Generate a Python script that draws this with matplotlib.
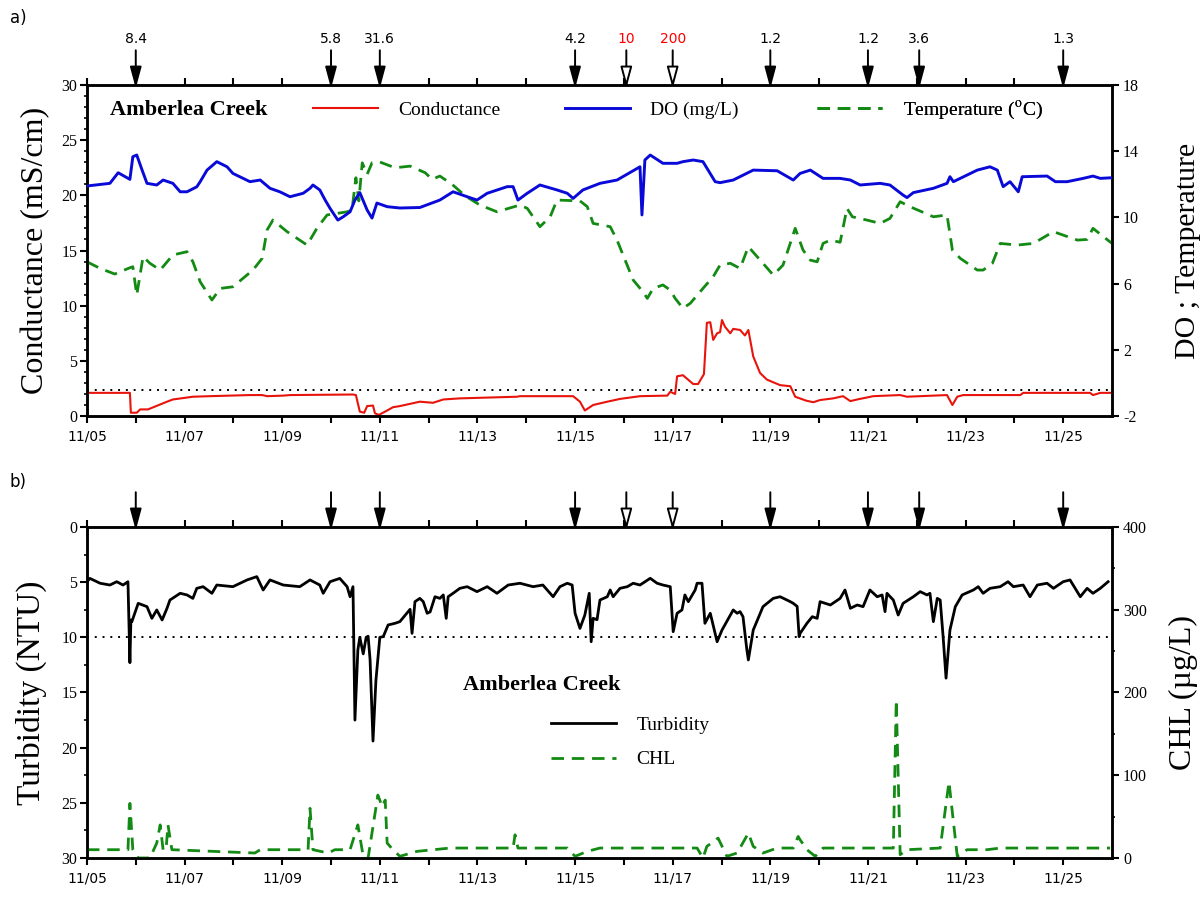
import numpy as np
import matplotlib
matplotlib.use('Agg')
import matplotlib.pyplot as plt
from matplotlib.ticker import MultipleLocator

plt.rcParams['font.family'] = 'DejaVu Sans'
plt.rcParams['mathtext.fontset'] = 'stix'
plt.rcParams['axes.unicode_minus'] = False
SERIF = 'Liberation Serif'

# time axis: days since 11/05 00:00
day_labels = ['11/05', '11/07', '11/09', '11/11', '11/13', '11/15',
              '11/17', '11/19', '11/21', '11/23', '11/25']

# events marked by arrows (rain totals)
event_days = [1.0, 5.0, 6.0, 10.0, 11.05, 12.0, 14.0, 16.0, 17.05, 20.0]
event_labels = ['8.4', '5.8', '31.6', '4.2', '10', '200', '1.2', '1.2', '3.6', '1.3']
event_hollow = [False, False, False, False, True, True, False, False, False, False]

# a) conductance (mS/cm), left axis
conductance = [
    (0.00, 2.1), (0.88, 2.1), (0.90, 0.3), (1.02, 0.3), (1.09, 0.6), (1.25, 0.6),
    (1.39, 0.85), (1.64, 1.3), (1.76, 1.5), (2.17, 1.75), (2.52, 1.8), (3.34, 1.9),
    (3.59, 1.9), (3.69, 1.8), (4.02, 1.85), (4.16, 1.9), (5.45, 1.95), (5.51, 1.9),
    (5.59, 0.4), (5.68, 0.3), (5.74, 0.9), (5.86, 0.95), (5.90, 0.25), (5.98, 0.1),
    (6.15, 0.5), (6.27, 0.8), (6.41, 0.9), (6.82, 1.3), (7.09, 1.2), (7.30, 1.5),
    (7.64, 1.6), (8.81, 1.75), (8.87, 1.8), (9.96, 1.8), (10.10, 1.3), (10.20, 0.5),
    (10.37, 1.0), (10.66, 1.3), (10.92, 1.55), (11.33, 1.8), (11.89, 1.85),
    (11.95, 2.2), (12.05, 2.0), (12.09, 3.6), (12.21, 3.7), (12.42, 2.9),
    (12.52, 2.9), (12.64, 3.8), (12.70, 8.45), (12.77, 8.5), (12.83, 6.9),
    (12.91, 7.5), (12.97, 7.6), (13.01, 8.7), (13.07, 8.1), (13.18, 7.5),
    (13.24, 7.9), (13.38, 7.8), (13.48, 7.3), (13.55, 7.8), (13.65, 5.4),
    (13.79, 3.9), (13.93, 3.3), (14.20, 2.8), (14.41, 2.7), (14.51, 1.75),
    (14.73, 1.4), (14.88, 1.25), (15.02, 1.45), (15.29, 1.6), (15.49, 1.8),
    (15.64, 1.35), (15.78, 1.5), (16.11, 1.8), (16.66, 1.9), (16.80, 1.75),
    (17.62, 1.9), (17.73, 1.0), (17.83, 1.75), (17.95, 1.9), (19.12, 1.9),
    (19.18, 2.1), (20.55, 2.1), (20.61, 1.9), (20.76, 2.1), (21.00, 2.1)]

# a) dissolved oxygen (mg/L), right axis
dissolved_oxygen = [
    (0.00, 11.9), (0.47, 12.06), (0.64, 12.7), (0.88, 12.3), (0.94, 13.67),
    (1.02, 13.77), (1.13, 12.86), (1.23, 12.06), (1.43, 11.96), (1.56, 12.26),
    (1.76, 12.06), (1.91, 11.55), (2.05, 11.55), (2.25, 11.85), (2.32, 12.16),
    (2.46, 12.86), (2.66, 13.37), (2.87, 13.06), (2.99, 12.66), (3.34, 12.16),
    (3.55, 12.26), (3.75, 11.76), (3.95, 11.55), (4.16, 11.25), (4.43, 11.46),
    (4.57, 11.76), (4.63, 11.96), (4.77, 11.66), (4.88, 11.05), (4.98, 10.55),
    (5.14, 9.84), (5.25, 10.04), (5.39, 10.34), (5.49, 11.05), (5.59, 11.5),
    (5.74, 10.45), (5.84, 9.96), (5.94, 10.87), (6.15, 10.65), (6.41, 10.57),
    (6.82, 10.6), (7.23, 11.05), (7.50, 11.55), (7.79, 11.25), (7.99, 11.05),
    (8.20, 11.46), (8.61, 11.86), (8.73, 11.86), (8.83, 11.05), (9.02, 11.46),
    (9.28, 11.96), (9.63, 11.66), (9.84, 11.46), (9.96, 11.15), (10.16, 11.66),
    (10.51, 12.06), (10.86, 12.26), (11.33, 13.06), (11.37, 10.15), (11.43, 13.47),
    (11.54, 13.77), (11.80, 13.27), (12.09, 13.27), (12.21, 13.37), (12.42, 13.47),
    (12.62, 13.37), (12.87, 12.16), (12.97, 12.1), (13.24, 12.26), (13.65, 12.86),
    (14.14, 12.82), (14.47, 12.26), (14.61, 12.66), (14.82, 12.86), (15.08, 12.36),
    (15.43, 12.36), (15.64, 12.26), (15.84, 11.96), (16.25, 12.06), (16.45, 11.96),
    (16.72, 11.35), (16.80, 11.2), (16.93, 11.5), (17.34, 11.76), (17.62, 12.06),
    (17.68, 12.46), (17.75, 12.16), (18.24, 12.86), (18.50, 13.06), (18.65, 12.86),
    (18.77, 11.86), (18.91, 12.16), (19.08, 11.55), (19.16, 12.46), (19.67, 12.5),
    (19.84, 12.16), (20.08, 12.16), (20.41, 12.36), (20.61, 12.5), (20.76, 12.36),
    (21.00, 12.4)]

# a) water temperature (oC), right axis
temperature = [
    (0.00, 7.32), (0.27, 6.92), (0.57, 6.58), (0.88, 6.96), (0.94, 7.02),
    (1.02, 5.31), (1.15, 7.63), (1.29, 7.23), (1.50, 6.82), (1.76, 7.73),
    (2.05, 7.93), (2.17, 7.32), (2.32, 6.11), (2.56, 5.01), (2.73, 5.71),
    (2.99, 5.81), (3.40, 6.82), (3.59, 7.53), (3.69, 9.24), (3.81, 9.84),
    (4.10, 9.14), (4.51, 8.33), (4.71, 9.34), (4.92, 10.15), (5.33, 10.34),
    (5.43, 10.45), (5.51, 12.4), (5.57, 11.0), (5.64, 13.3), (5.74, 12.6),
    (5.84, 13.3), (6.00, 13.35), (6.31, 13.0), (6.62, 13.1), (6.93, 12.7),
    (7.07, 12.3), (7.23, 12.5), (7.48, 12.0), (7.75, 11.3), (8.05, 10.75),
    (8.40, 10.34), (8.87, 10.75), (9.02, 10.55), (9.28, 9.44), (9.49, 10.04),
    (9.63, 11.05), (10.10, 11.0), (10.25, 10.65), (10.37, 9.64), (10.72, 9.44),
    (10.86, 8.63), (11.19, 6.22), (11.39, 5.51), (11.48, 5.11), (11.60, 5.71),
    (11.80, 5.92), (11.95, 5.61), (12.05, 5.11), (12.21, 4.51), (12.36, 4.81),
    (12.62, 5.71), (12.83, 6.42), (12.97, 7.12), (13.18, 7.23), (13.38, 6.92),
    (13.55, 8.23), (13.73, 7.63), (14.06, 6.52), (14.26, 7.12), (14.51, 9.34),
    (14.67, 8.03), (14.82, 7.42), (14.96, 7.32), (15.08, 8.43), (15.23, 8.63),
    (15.43, 8.5), (15.57, 10.55), (15.68, 10.04), (15.98, 9.84), (16.25, 9.64),
    (16.45, 9.94), (16.66, 10.95), (16.86, 10.65), (17.34, 10.04), (17.62, 10.15),
    (17.73, 8.03), (17.89, 7.53), (18.24, 6.82), (18.36, 6.82), (18.55, 7.23),
    (18.71, 8.43), (19.06, 8.33), (19.39, 8.43), (19.80, 9.14), (20.29, 8.63),
    (20.49, 8.67), (20.61, 9.34), (21.00, 8.43)]

# b) turbidity (NTU), left axis (inverted)
turbidity = [
    (0.00, 4.96), (0.06, 4.66), (0.27, 5.1), (0.47, 5.26), (0.61, 4.96), (0.74, 5.26),
    (0.84, 4.96), (0.88, 12.3), (0.90, 8.43), (0.92, 8.58), (1.05, 6.92), (1.23, 7.22),
    (1.33, 8.28), (1.43, 7.52), (1.54, 8.43), (1.64, 7.37), (1.70, 6.62), (1.91, 6.01),
    (2.05, 6.16), (2.17, 6.47), (2.25, 5.56), (2.38, 5.41), (2.56, 6.01), (2.66, 5.26),
    (2.99, 5.41), (3.28, 4.8), (3.48, 4.5), (3.61, 5.71), (3.75, 4.8), (4.02, 5.26),
    (4.36, 5.41), (4.57, 4.8), (4.77, 5.26), (4.84, 6.01), (4.98, 4.96), (5.18, 4.66),
    (5.33, 5.41), (5.39, 6.32), (5.45, 5.41), (5.49, 17.5), (5.55, 11.15), (5.59, 10.0),
    (5.66, 11.5), (5.72, 10.0), (5.76, 9.9), (5.80, 12.0), (5.86, 19.4), (5.92, 13.9),
    (5.96, 12.0), (6.00, 10.0), (6.07, 9.94), (6.17, 8.88), (6.31, 8.73), (6.41, 8.58),
    (6.62, 7.46), (6.66, 9.64), (6.72, 6.77), (6.82, 6.47), (6.89, 6.77), (6.97, 7.82),
    (7.03, 7.7), (7.13, 6.32), (7.23, 6.47), (7.30, 6.16), (7.36, 8.28), (7.40, 6.32),
    (7.50, 6.01), (7.64, 5.56), (7.79, 5.41), (7.99, 5.86), (8.20, 5.41), (8.40, 6.01),
    (8.63, 5.26), (8.87, 5.1), (9.14, 5.41), (9.34, 5.26), (9.55, 6.32), (9.69, 5.41),
    (9.84, 5.1), (9.94, 5.26), (10.00, 7.82), (10.10, 9.19), (10.20, 7.98), (10.29, 6.01),
    (10.33, 10.4), (10.37, 8.28), (10.45, 8.4), (10.51, 6.62), (10.66, 6.32), (10.72, 5.71),
    (10.78, 6.32), (10.92, 5.56), (11.07, 5.41), (11.19, 5.1), (11.33, 5.26), (11.54, 4.65),
    (11.68, 5.1), (11.80, 5.26), (11.95, 5.41), (12.01, 9.49), (12.09, 7.82), (12.19, 7.52),
    (12.25, 6.16), (12.32, 6.77), (12.46, 5.71), (12.50, 5.1), (12.60, 5.1), (12.66, 8.73),
    (12.77, 7.82), (12.91, 10.4), (13.01, 9.34), (13.18, 7.98), (13.24, 7.52), (13.32, 7.82),
    (13.38, 7.67), (13.44, 8.13), (13.52, 11.15), (13.55, 12.05), (13.65, 9.34),
    (13.85, 7.22), (14.06, 6.47), (14.20, 6.32), (14.41, 6.77), (14.47, 6.92), (14.55, 7.2),
    (14.59, 9.94), (14.61, 9.64), (14.75, 8.73), (14.86, 8.13), (14.96, 8.28), (15.02, 6.77),
    (15.23, 7.07), (15.43, 6.47), (15.53, 5.71), (15.64, 7.37), (15.78, 7.07), (15.90, 7.22),
    (16.04, 5.71), (16.19, 6.32), (16.29, 6.16), (16.35, 7.67), (16.39, 6.01), (16.52, 6.62),
    (16.62, 7.98), (16.72, 6.92), (16.93, 6.32), (17.07, 5.86), (17.21, 6.16), (17.27, 6.01),
    (17.34, 8.58), (17.42, 6.47), (17.48, 6.62), (17.54, 9.94), (17.60, 13.7), (17.68, 9.34),
    (17.79, 7.22), (17.93, 6.16), (18.16, 5.71), (18.26, 5.41), (18.36, 6.01), (18.50, 5.56),
    (18.71, 5.41), (18.87, 4.96), (18.98, 5.41), (19.18, 5.26), (19.32, 6.32), (19.47, 5.26),
    (19.67, 5.1), (19.80, 5.56), (20.00, 4.96), (20.14, 4.8), (20.35, 6.32), (20.49, 5.56),
    (20.61, 6.01), (20.76, 5.56), (20.92, 4.96)]

# b) chlorophyll (ug/L), right axis
chlorophyll = [
    (0.00, 10), (0.84, 10), (0.88, 66), (0.94, 10), (1.05, 0), (1.29, 0), (1.43, 18),
    (1.50, 40), (1.56, 10), (1.62, 10), (1.66, 40), (1.74, 10), (3.44, 6), (3.55, 10),
    (4.53, 10), (4.57, 60), (4.63, 10), (4.94, 6), (5.08, 10), (5.39, 10), (5.55, 40),
    (5.66, 2), (5.76, 0), (5.96, 76), (6.05, 62), (6.11, 70), (6.15, 18), (6.27, 10),
    (6.41, 2), (6.76, 8), (7.44, 12), (8.73, 12), (8.77, 28), (8.83, 12), (9.84, 12),
    (10.00, 2), (10.25, 8), (10.51, 12), (12.50, 12), (12.62, 0), (12.70, 14),
    (12.93, 24), (13.11, 2), (13.32, 6), (13.55, 30), (13.65, 14), (13.85, 6),
    (14.14, 12), (14.47, 12), (14.57, 26), (14.61, 22), (14.75, 10), (14.92, 2),
    (15.08, 12), (16.52, 12), (16.58, 191), (16.66, 4), (16.80, 10), (17.48, 12),
    (17.66, 92), (17.83, 2), (18.03, 10), (18.44, 10), (18.71, 12), (20.96, 12)]

cond_limit = 2.4
turb_limit = 10

GREEN = '#138a13'
DASH = (0, (4.5, 2.8))


def xy(pairs):
    a = np.array(pairs, dtype=float)
    return a[:, 0], a[:, 1]


def style_time_axis(ax):
    ax.set_xlim(0, 21)
    ticks = np.arange(0, 21)
    labels = [day_labels[i // 2] if i % 2 == 0 else '' for i in ticks]
    ax.set_xticks(ticks)
    ax.set_xticklabels(labels)
    ax.tick_params(axis='x', which='major', top=True, direction='out',
                   length=5, width=1.5, pad=5, labelsize=10)
    for s in ax.spines.values():
        s.set_linewidth(1.8)


def draw_events(ax, with_text):
    tr = ax.get_xaxis_transform()
    for d, lab, hollow in zip(event_days, event_labels, event_hollow):
        ax.annotate('', xy=(d, 0.99), xycoords=tr, xytext=(d, 1.105), textcoords=tr,
                    annotation_clip=False,
                    arrowprops=dict(arrowstyle='-|>,head_length=1.3,head_width=0.35',
                                    fc='white' if hollow else 'black', ec='black',
                                    lw=1.4, mutation_scale=10, shrinkA=0, shrinkB=0))
        if with_text:
            ax.text(d, 1.14, lab, transform=tr, ha='center', va='center', fontsize=10,
                    color='red' if hollow else 'black', clip_on=False)


fig = plt.figure(figsize=(12.01, 8.97), dpi=100)

# ---------------- a) ----------------
ax1 = fig.add_axes([0.0724, 0.5362, 0.8535, 0.369])
ax1r = ax1.twinx()

d, v = xy(conductance)
ax1.plot(d, v, color='#e8140c', lw=1.5)
ax1.axhline(cond_limit, color='black', ls=(0, (1, 3)), lw=1.4)
d, v = xy(dissolved_oxygen)
ax1r.plot(d, v, color='#0a0ad8', lw=2.1, zorder=3)
d, v = xy(temperature)
ax1r.plot(d, v, color=GREEN, lw=2.0, ls=DASH, zorder=2)

ax1.set_ylim(0, 30)
ax1.yaxis.set_major_locator(MultipleLocator(5))
ax1.yaxis.set_minor_locator(MultipleLocator(1))
ax1r.set_ylim(-2, 18)
ax1r.set_yticks([-2, 2, 6, 10, 14, 18])
style_time_axis(ax1)
for s in ax1r.spines.values():
    s.set_linewidth(1.8)
ax1.tick_params(axis='y', which='major', length=5, width=1.5, pad=2,
                labelsize=11.5, labelfontfamily=SERIF)
ax1.tick_params(axis='y', which='minor', length=2, width=1.2)
ax1r.tick_params(axis='y', which='major', length=5, width=1.5, pad=3,
                 labelsize=11.5, labelfontfamily=SERIF)
ax1.set_ylabel('Conductance (mS/cm)', fontsize=23, family=SERIF, labelpad=8)
ax1r.set_ylabel('DO ; Temperature', fontsize=21.5, family=SERIF, labelpad=26)

ax1.text(0.0224, 0.9245, 'Amberlea Creek', transform=ax1.transAxes, fontsize=16,
         fontweight='bold', family=SERIF, va='center')
top_entries = [
    (ax1.get_lines()[0], 'Conductance', 0.2205),
    (ax1r.get_lines()[0], 'DO (mg/L)', 0.4663),
    (ax1r.get_lines()[1], r'Temperature ($^{\rm o}$C)', 0.7122),
]
for line, label, x0 in top_entries:
    leg = ax1r.legend([line], [label], loc='center left', bbox_to_anchor=(x0, 0.9245),
                      frameon=False, borderpad=0, borderaxespad=0, handlelength=3.35,
                      handletextpad=1.05, prop={'family': SERIF, 'size': 14})
    ax1r.add_artist(leg)
draw_events(ax1, True)

# ---------------- b) ----------------
ax2 = fig.add_axes([0.0724, 0.0435, 0.8535, 0.369])
ax2r = ax2.twinx()

d, v = xy(turbidity)
ax2.plot(d, v, color='black', lw=2.0, label='Turbidity')
ax2.axhline(turb_limit, color='black', ls=(0, (1, 3)), lw=1.4)
d, v = xy(chlorophyll)
ax2r.plot(d, v, color=GREEN, lw=2.0, ls=DASH, label='CHL')

ax2.set_ylim(30, 0)
ax2.yaxis.set_major_locator(MultipleLocator(5))
ax2.yaxis.set_minor_locator(MultipleLocator(2.5))
ax2r.set_ylim(0, 400)
ax2r.yaxis.set_major_locator(MultipleLocator(100))
ax2r.yaxis.set_minor_locator(MultipleLocator(50))
style_time_axis(ax2)
for s in ax2r.spines.values():
    s.set_linewidth(1.8)
ax2.tick_params(axis='y', which='major', length=5, width=1.5, pad=2,
                labelsize=11.5, labelfontfamily=SERIF)
ax2.tick_params(axis='y', which='minor', length=2, width=1.2)
ax2r.tick_params(axis='y', which='major', length=5, width=1.5, pad=3,
                 labelsize=11.5, labelfontfamily=SERIF)
ax2r.tick_params(axis='y', which='minor', length=2, width=1.2)
ax2.set_ylabel('Turbidity (NTU)', fontsize=24, family=SERIF, labelpad=10)
ax2r.set_ylabel('CHL (\u00b5g/L)', fontsize=23, family=SERIF, labelpad=16)

ax2.text(0.367, 0.523, 'Amberlea Creek', transform=ax2.transAxes, fontsize=16,
         fontweight='bold', family=SERIF, va='center')
ax2r.legend(ax2.get_lines()[:1] + ax2r.get_lines()[:1], ['Turbidity', 'CHL'],
            loc='center left', bbox_to_anchor=(0.4527, 0.349), frameon=False,
            borderpad=0, borderaxespad=0, handlelength=3.35, handletextpad=1.05,
            labelspacing=0.85, prop={'family': SERIF, 'size': 14})
draw_events(ax2, False)

fig.text(0.008, 0.98, 'a)', fontsize=12, va='center')
fig.text(0.008, 0.4627, 'b)', fontsize=12, va='center')

fig.savefig('out.png', dpi=100)
